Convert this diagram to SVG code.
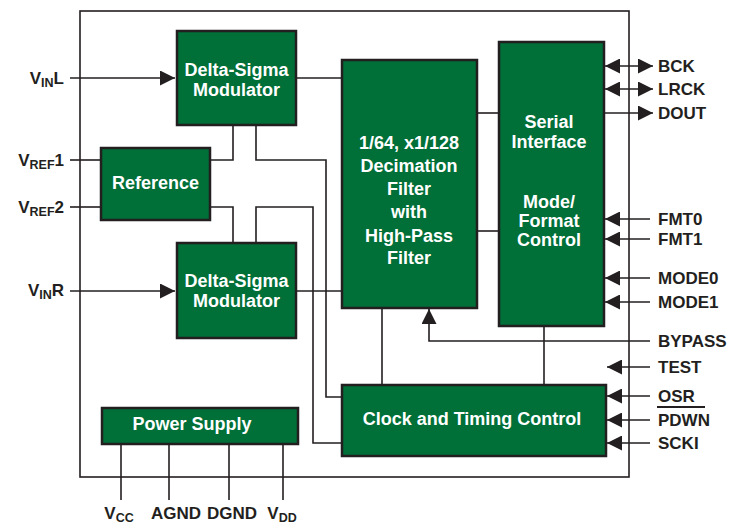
<svg xmlns="http://www.w3.org/2000/svg" width="740" height="525" viewBox="0 0 740 525">
<style>
.blk{fill:#006f38;stroke:#231f20;stroke-width:2.5}
.ln{fill:none;stroke:#231f20;stroke-width:1.6}
.bt{font-family:"Liberation Sans",Arial,sans-serif;font-weight:bold;font-size:18px;fill:#fff;text-anchor:middle}
.lb{font-family:"Liberation Sans",Arial,sans-serif;font-weight:bold;font-size:17px;fill:#231f20}
.sub{font-size:12.5px}
</style>
<defs>
<marker id="ah" markerUnits="userSpaceOnUse" markerWidth="15" markerHeight="15" viewBox="0 0 14 14" refX="14" refY="7" orient="auto-start-reverse">
<path d="M0,0 L14,7 L0,14 z" fill="#231f20"/>
</marker>
</defs>
<rect x="0" y="0" width="740" height="525" fill="#fff"/>
<rect id="frame" x="80" y="11" width="549" height="466" class="ln"/>
<g id="connectors">
<line class="ln" x1="70" y1="78" x2="175" y2="78" marker-end="url(#ah)"/>
<line class="ln" x1="296" y1="78" x2="342" y2="78"/>
<line class="ln" x1="70" y1="160" x2="101" y2="160"/>
<line class="ln" x1="70" y1="207" x2="101" y2="207"/>
<polyline class="ln" points="210,160 233,160 233,125"/>
<polyline class="ln" points="256,125 256,160 326,160 326,397 342,397"/>
<polyline class="ln" points="210,207 233,207 233,243"/>
<polyline class="ln" points="256,243 256,207 313,207 313,443 342,443"/>
<line class="ln" x1="70" y1="291" x2="175" y2="291" marker-end="url(#ah)"/>
<line class="ln" x1="296" y1="291" x2="342" y2="291"/>
<line class="ln" x1="477" y1="113" x2="499" y2="113"/>
<line class="ln" x1="477" y1="231" x2="499" y2="231"/>
<line class="ln" x1="382" y1="308" x2="382" y2="385"/>
<line class="ln" x1="544" y1="326" x2="544" y2="385"/>
<polyline class="ln" points="650,341 429,341 429,309" marker-end="url(#ah)"/>
<line class="ln" x1="605" y1="66" x2="653" y2="66" marker-start="url(#ah)" marker-end="url(#ah)"/>
<line class="ln" x1="605" y1="89" x2="653" y2="89" marker-start="url(#ah)" marker-end="url(#ah)"/>
<line class="ln" x1="604" y1="113" x2="653" y2="113" marker-end="url(#ah)"/>
<line class="ln" x1="650" y1="219" x2="605" y2="219" marker-end="url(#ah)"/>
<line class="ln" x1="650" y1="239" x2="605" y2="239" marker-end="url(#ah)"/>
<line class="ln" x1="650" y1="278" x2="605" y2="278" marker-end="url(#ah)"/>
<line class="ln" x1="650" y1="302" x2="605" y2="302" marker-end="url(#ah)"/>
<line class="ln" x1="650" y1="367" x2="607" y2="367" marker-end="url(#ah)"/>
<line class="ln" x1="650" y1="396" x2="607" y2="396" marker-end="url(#ah)"/>
<line class="ln" x1="650" y1="420" x2="607" y2="420" marker-end="url(#ah)"/>
<line class="ln" x1="650" y1="443" x2="607" y2="443" marker-end="url(#ah)"/>
<line class="ln" x1="121" y1="444" x2="121" y2="500"/>
<line class="ln" x1="169" y1="444" x2="169" y2="500"/>
<line class="ln" x1="229" y1="444" x2="229" y2="500"/>
<line class="ln" x1="283" y1="444" x2="283" y2="500"/>
</g>
<g id="ds1">
<rect class="blk" x="177" y="31" width="119" height="94"/>
<text class="bt" x="236.5" y="76">Delta-Sigma</text>
<text class="bt" x="236.5" y="96">Modulator</text>
</g>
<g id="reference">
<rect class="blk" x="101" y="148" width="109" height="72"/>
<text class="bt" x="155.5" y="189">Reference</text>
</g>
<g id="ds2">
<rect class="blk" x="177" y="243" width="119" height="95"/>
<text class="bt" x="236.5" y="287">Delta-Sigma</text>
<text class="bt" x="236.5" y="307">Modulator</text>
</g>
<g id="decimation">
<rect class="blk" x="342" y="60" width="135" height="248"/>
<text class="bt" x="409" y="149">1/64, x1/128</text>
<text class="bt" x="409" y="172">Decimation</text>
<text class="bt" x="409" y="195">Filter</text>
<text class="bt" x="409" y="218">with</text>
<text class="bt" x="409" y="242">High-Pass</text>
<text class="bt" x="409" y="264">Filter</text>
</g>
<g id="serial">
<rect class="blk" x="499" y="42" width="105" height="284"/>
<text class="bt" x="549" y="128">Serial</text>
<text class="bt" x="549" y="148">Interface</text>
<text class="bt" x="549" y="208">Mode/</text>
<text class="bt" x="549" y="227">Format</text>
<text class="bt" x="549" y="246">Control</text>
</g>
<g id="clock">
<rect class="blk" x="342" y="385" width="264" height="71"/>
<text class="bt" x="472" y="425">Clock and Timing Control</text>
</g>
<g id="power">
<rect class="blk" x="102" y="408" width="196" height="36"/>
<text class="bt" x="192" y="430">Power Supply</text>
</g>
<g id="pins-left">
<text class="lb" x="64" y="84" text-anchor="end">V<tspan class="sub" dy="3">IN</tspan><tspan dy="-3">L</tspan></text>
<text class="lb" x="64" y="166" text-anchor="end">V<tspan class="sub" dy="3">REF</tspan><tspan dy="-3">1</tspan></text>
<text class="lb" x="64" y="213" text-anchor="end">V<tspan class="sub" dy="3">REF</tspan><tspan dy="-3">2</tspan></text>
<text class="lb" x="64" y="296" text-anchor="end">V<tspan class="sub" dy="3">IN</tspan><tspan dy="-3">R</tspan></text>
</g>
<g id="pins-right">
<text class="lb" x="658" y="72">BCK</text>
<text class="lb" x="658" y="95">LRCK</text>
<text class="lb" x="658" y="119">DOUT</text>
<text class="lb" x="658" y="225">FMT0</text>
<text class="lb" x="658" y="245">FMT1</text>
<text class="lb" x="658" y="284">MODE0</text>
<text class="lb" x="658" y="308">MODE1</text>
<text class="lb" x="658" y="347">BYPASS</text>
<text class="lb" x="658" y="373">TEST</text>
<text class="lb" x="658" y="402">OSR</text>
<text class="lb" x="658" y="426">PDWN</text>
<line x1="657" y1="407" x2="705" y2="407" stroke="#231f20" stroke-width="2"/>
<text class="lb" x="658" y="449">SCKI</text>
</g>
<g id="pins-bottom">
<text class="lb" x="119" y="519" text-anchor="middle">V<tspan class="sub" dy="3">CC</tspan></text>
<text class="lb" x="176" y="519" text-anchor="middle">AGND</text>
<text class="lb" x="232" y="519" text-anchor="middle">DGND</text>
<text class="lb" x="282" y="519" text-anchor="middle">V<tspan class="sub" dy="3">DD</tspan></text>
</g>
</svg>
